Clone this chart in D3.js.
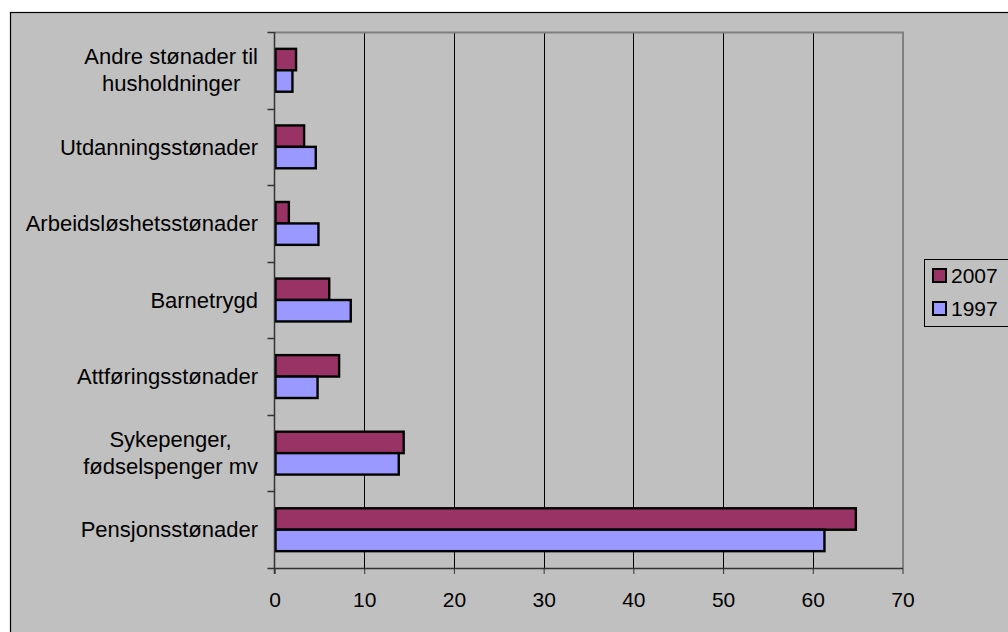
<!DOCTYPE html>
<html><head><meta charset="utf-8">
<script src="https://cdn.jsdelivr.net/npm/d3@7"></script>
<style>body{margin:0;background:#fff;} svg{display:block;font-family:"Liberation Sans",Arial,sans-serif;}</style>
</head><body>
<svg id="c" width="1008" height="632"></svg>
<script>
const categories = [
  ["Andre stønader til","husholdninger"],
  ["Utdanningsstønader"],
  ["Arbeidsløshetsstønader"],
  ["Barnetrygd"],
  ["Attføringsstønader"],
  ["Sykepenger,","fødselspenger mv"],
  ["Pensjonsstønader"]
];
const series = ["2007","1997"];
const values2007 = [2.4, 3.3, 1.6, 6.1, 7.2, 14.4, 64.8];
const values1997 = [2.0, 4.6, 4.9, 8.5, 4.8, 13.85, 61.3];
const xTicks = [0,10,20,30,40,50,60,70];
const colors = {"2007":"#993366","1997":"#9999FF"};
const FS = 21, FSC = 22;

const svg = d3.select("#c");
svg.append("rect").attr("x",10.5).attr("y",12.5).attr("width",1100).attr("height",700)
  .attr("fill","#c0c0c0").attr("stroke","#000").attr("stroke-width",1.2);

const L=274.5, R=902.5, T=32, B=568;
const x = d3.scaleLinear().domain([0,70]).range([L,R]);
const idx = categories.map((d,i)=>i);
const y = d3.scaleBand().domain(idx).range([T,B]).paddingInner(0.44).paddingOuter(0.22);
const ySub = d3.scaleBand().domain(series).range([0,y.bandwidth()]);

svg.append("g").selectAll("line").data(xTicks.filter(t=>t>0&&t<70)).join("line")
  .attr("x1",d=>Math.round(x(d))+0.5).attr("x2",d=>Math.round(x(d))+0.5)
  .attr("y1",T).attr("y2",B).attr("stroke","#000").attr("stroke-width",1);
svg.append("path").attr("d",`M${L},${T+0.5}H${R+0.5}V${B}`).attr("fill","none")
  .attr("stroke","#808080").attr("stroke-width",2);

const data = [];
idx.forEach(i=>{
  data.push({i, s:"2007", v:values2007[i]});
  data.push({i, s:"1997", v:values1997[i]});
});
svg.append("g").selectAll("rect").data(data).join("rect")
  .attr("x",x(0)+1).attr("y",d=>y(d.i)+ySub(d.s))
  .attr("width",d=>x(d.v)-x(0)-1).attr("height",ySub.bandwidth())
  .attr("fill",d=>colors[d.s]).attr("stroke","#000").attr("stroke-width",2.4);

const xa = svg.append("g").attr("transform",`translate(0,${B})`)
  .call(d3.axisBottom(x).tickValues(xTicks).tickSize(6).tickSizeOuter(0).tickPadding(18));
xa.select(".domain").attr("stroke","#333").attr("stroke-width",1.5);
xa.selectAll(".tick line").attr("stroke","#333");
xa.selectAll("text").attr("font-size",FS).attr("fill","#000").attr("font-family","Liberation Sans, Arial, sans-serif");

const yEdges = d3.range(categories.length+1).map(k=>T+(B-T)*k/categories.length);
svg.append("line").attr("x1",L).attr("x2",L).attr("y1",T).attr("y2",B+6).attr("stroke","#333").attr("stroke-width",1.5);
svg.append("g").selectAll("line").data(yEdges).join("line")
  .attr("x1",L-7).attr("x2",L).attr("y1",d=>Math.round(d)+0.5).attr("y2",d=>Math.round(d)+0.5)
  .attr("stroke","#333").attr("stroke-width",1.5);

const lab = svg.append("g").attr("font-size",FSC).attr("fill","#000");
categories.forEach((lines,i)=>{
  const cy = y(i)+y.bandwidth()/2;
  const lh = 27;
  const g = lab.append("g");
  const texts = lines.map((t,k)=>g.append("text").text(t)
      .attr("y", cy + (k-(lines.length-1)/2)*lh).attr("dy","0.35em"));
  const widths = texts.map(t=>t.node().getComputedTextLength());
  const maxW = d3.max(widths);
  const right = 258;
  texts.forEach(t=>t.attr("text-anchor","middle").attr("x", right-maxW/2));
});

const lg = svg.append("g");
lg.append("rect").attr("x",924.5).attr("y",259.5).attr("width",100).attr("height",67)
  .attr("fill","#c0c0c0").attr("stroke","#000").attr("stroke-width",1);
series.forEach((s,k)=>{
  const yy = 275.5 + k*33;
  lg.append("rect").attr("x",933).attr("y",yy-6.5).attr("width",13).attr("height",13)
    .attr("fill",colors[s]).attr("stroke","#000").attr("stroke-width",2);
  lg.append("text").attr("x",951).attr("y",yy).attr("dy","0.36em").attr("font-size",FS).text(s);
});
</script>
</body></html>
